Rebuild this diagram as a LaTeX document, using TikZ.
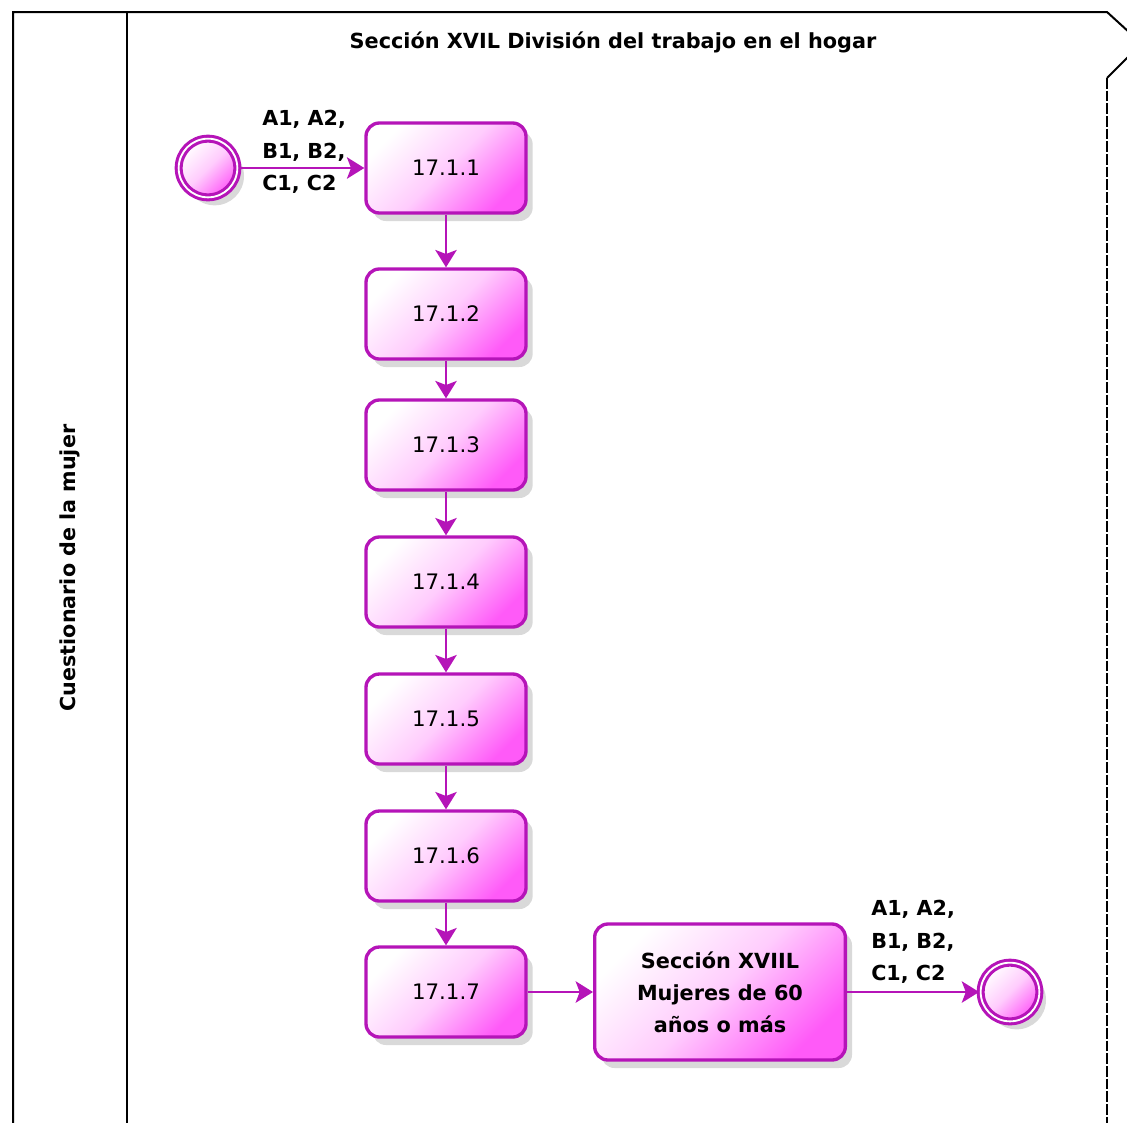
\documentclass[tikz,border=0pt]{standalone}
\usepackage{fontspec}
\setmainfont{DejaVu Sans}
\usetikzlibrary{arrows.meta,positioning,shadows}
\definecolor{flow}{HTML}{B514B8}
\definecolor{taskfill}{HTML}{FF5AF8}
\definecolor{taskmid}{HTML}{FFCCFD}

\tikzset{
  task/.style={draw=flow, line width=2.5pt, rounded corners=10pt,
    minimum width=120pt, minimum height=67.5pt, align=center,
    top color=white, bottom color=taskfill, middle color=taskmid,
    shading angle=45,
    drop shadow={shadow xshift=5pt, shadow yshift=-6pt, opacity=0.3, fill=black!50},
    font=\fontsize{16}{20}\selectfont},
  event/.style={circle, draw=flow, line width=2.3pt, double=white,
    double distance=1.4pt, minimum size=44pt, inner sep=0pt,
    top color=white, bottom color=taskfill, middle color=taskmid,
    shading angle=45,
    drop shadow={shadow xshift=5pt, shadow yshift=-6pt, opacity=0.3, fill=black!50}},
  flowarrow/.style={draw=flow, line width=2pt,
    -{Stealth[length=13pt, width=16pt, inset=3pt]}},
  cond/.style={font=\bfseries\fontsize{15.5}{24.5}\selectfont, align=left,
    inner sep=0pt},
}

\begin{document}
\begin{tikzpicture}[x=0.75pt, y=-0.75pt]
  \useasboundingbox (0,0) rectangle (1127,1122);
  \begin{scope}
  \clip (0,0) rectangle (1127,1122);
  % pool and lane
  \draw[line width=1.5pt] (13,1130) -- (13,12) -- (1107,12) -- (1130,33);
  \draw[line width=1.5pt] (1130,55) -- (1107,78);
  \draw[line width=1.2pt, dash pattern=on 8pt off 1.5pt] (1107,78) -- (1107,1130);
  \draw[line width=1.5pt] (127,12) -- (127,1130);
  \end{scope}
  \node[rotate=90, font=\bfseries\fontsize{15.5}{18}\selectfont] (lane) at (70,568) {Cuestionario de la mujer};
  \node[font=\bfseries\fontsize{15.6}{18}\selectfont] (pool) at (613,42) {Sección XVIL División del trabajo en el hogar};

  % events
  \node[event] (start) at (208,168) {};
  \node[event] (end) at (1010,992) {};

  % tasks
  \node[task] (t1) at (446,168) {17.1.1};
  \node[task] (t2) at (446,314) {17.1.2};
  \node[task] (t3) at (446,445) {17.1.3};
  \node[task] (t4) at (446,582) {17.1.4};
  \node[task] (t5) at (446,719) {17.1.5};
  \node[task] (t6) at (446,856) {17.1.6};
  \node[task] (t7) at (446,992) {17.1.7};
  \node[task, minimum width=188pt, minimum height=102pt,
    font=\bfseries\fontsize{15.6}{24}\selectfont] (s18) at (720,992)
    {Sección XVIIL\\Mujeres de 60\\años o más};

  % flows
  \draw[flowarrow] (start) -- (t1);
  \foreach \a/\b in {t1/t2, t2/t3, t3/t4, t4/t5, t5/t6, t6/t7}
    \draw[flowarrow] (\a) -- (\b);
  \draw[flowarrow] (t7) -- (s18);
  \draw[flowarrow] (s18) -- (end);

  % conditions
  \node[cond, anchor=north west] (c1) at (262,110) {A1, A2,\\B1, B2,\\C1, C2};
  \node[cond, anchor=north west] (c2) at (871,900) {A1, A2,\\B1, B2,\\C1, C2};
\end{tikzpicture}
\end{document}
